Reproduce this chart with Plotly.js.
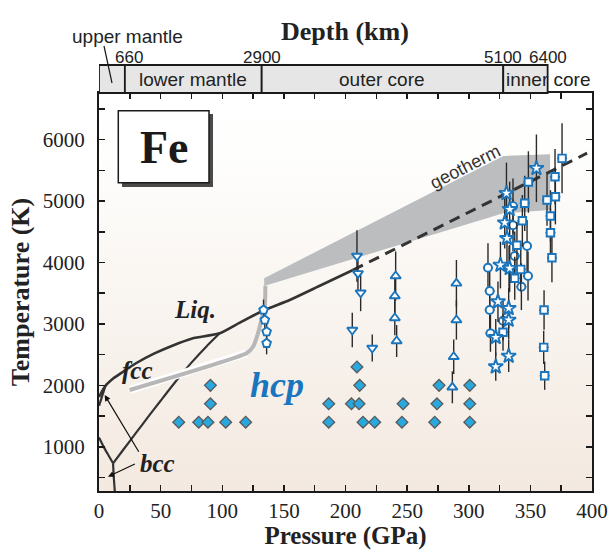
<!DOCTYPE html>
<html><head><meta charset="utf-8">
<script src="https://cdn.plot.ly/plotly-3.0.1.min.js"></script>
<style>html,body{margin:0;padding:0;background:#fff}#chart{width:614px;height:550px}</style>
</head><body><div id="chart"></div>
<script>
// ---------------- data ----------------
const depthKm = ['660', '2900', '5100', '6400'];
const depthP = [21, 132, 328, 364];
const depthRegions = ['lower mantle', 'outer core', 'inner core'];

// phase boundaries (P in GPa, T in K)
const meltP = [0, 5.2, 12, 19.5, 30, 45, 60, 75, 97.9, 115, 133.1, 154.7, 180, 206.1];
const meltT = [1811, 1991, 2120, 2222, 2360, 2520, 2650, 2760, 2847, 3030, 3215, 3389, 3630, 3878];
const meltExtP = [206.1, 396];
const meltExtT = [3878, 5780];
const deltaP = [0, 5.2];
const deltaT = [1667, 1991];
const bccFccP = [0, 4, 8, 11.4];
const bccFccT = [1150, 990, 850, 731];
const bccHcpP = [11.4, 12, 12.8];
const bccHcpT = [731, 500, 280];
const fccHcpP = [11.4, 20, 30, 40, 50, 62.8, 75, 87, 97.9];
const fccHcpT = [731, 960, 1225, 1490, 1750, 2080, 2370, 2630, 2847];
const grayP = [24.9, 119.6, 125, 129, 131.8, 134.5, 135];
const grayT = [1924, 2522, 2629, 2847, 3064, 3280, 3620];
const geoP = [134, 328, 366, 366, 328, 134];
const geoT = [3745, 5734, 5762, 4855, 4801, 3619];

// experimental points
const diaP = [64.7, 80.9, 88.4, 102.8, 119.0, 90.4, 90.4, 186.4, 186.4, 204.8, 211.0, 209.3, 211.5, 214.2, 223.7, 246.7, 245.8, 275.9, 274.2, 272.4, 300.8, 300.8, 300.8];
const diaT = [1400, 1400, 1400, 1400, 1400, 1700, 2000, 1700, 1400, 1700, 1700, 2300, 2000, 1400, 1400, 1700, 1400, 2000, 1700, 1400, 2000, 1700, 1400];

const pentP = [133.5, 134.5, 136, 136];
const pentT = [3227, 3064, 2873, 2685];
const pentErr = [170, 150, 150, 180];

const dtriP = [209.3, 210.1, 212.3, 205.5, 221.7];
const dtriT = [4106, 3824, 3508, 2901, 2608];
const dtriErr = [420, 300, 300, 280, 220];

const utriP = [240.7, 240, 240, 241.5, 290, 290, 287.8, 286.7];
const utriT = [3780, 3455, 3097, 2722, 3661, 3064, 2466, 1968];
const utriErr = [400, 300, 280, 260, 380, 320, 280, 260];

const starP = [330.6, 354.9, 333.2, 329.2, 331.0, 325.7, 333.2, 323.7, 332.4, 332.4, 321.9, 332.4, 321.9];
const starT = [5127, 5534, 4866, 4648, 4394, 3959, 3906, 3362, 3254, 3064, 2782, 2478, 2304];
const starErr = [500, 550, 450, 420, 400, 380, 380, 330, 330, 320, 300, 260, 230];

const circP = [335.9, 335.9, 337.3, 315.6, 332.7, 347.3, 348.1, 317.0, 342.7, 317.0, 327.8, 317.6];
const circT = [4918, 4606, 4106, 3915, 3894, 4269, 3780, 3536, 3606, 3227, 3052, 2847];
const circErr = [450, 420, 400, 400, 380, 420, 400, 350, 380, 330, 320, 300];

const sqP = [375.7, 370.0, 348.4, 370.3, 363.5, 345.4, 366.3, 343.5, 366.3, 339.1, 367.5, 342.2, 337.3, 327.8, 361.1, 360.8, 361.6];
const sqT = [5696, 5397, 5311, 5071, 5017, 4964, 4757, 4680, 4485, 4280, 4078, 3889, 3743, 2865, 3227, 2619, 2157];
const sqErr = [570, 450, 500, 450, 420, 450, 420, 420, 400, 380, 400, 360, 350, 300, 320, 270, 230];

// ---------------- layout helpers ----------------
const L = 99, R = 592, TOP = 93, BOT = 491;
const px = x => (x - L) / (R - L);
const py = y => (BOT - y) / (BOT - TOP);

const blue = '#1b75bc';
const dark = '#333333';
const serif = 'Liberation Serif, Times New Roman, serif';
const sans = 'Liberation Sans, Arial, sans-serif';

function line(x, y, color, width, dash) {
  return {x, y, type: 'scatter', mode: 'lines', hoverinfo: 'skip',
    line: {color, width, dash: dash || 'solid', shape: 'spline', smoothing: 0.5}};
}
function pts(x, y, err, symbol, size, errx) {
  return {x, y, type: 'scatter', mode: 'markers', hoverinfo: 'skip',
    marker: {symbol, size, color: '#ffffff', line: {color: blue, width: 1.9}},
    error_y: {type: 'data', array: err, visible: true, color: '#2a2a2a', thickness: 1.4, width: 0},
    error_x: {type: 'constant', value: errx, visible: errx > 0, color: '#2a2a2a', thickness: 1.3, width: 0}};
}

const traces = [
  {x: geoP, y: geoT, type: 'scatter', mode: 'lines', fill: 'toself', fillcolor: '#bcbdbf',
    line: {width: 0, color: '#bcbdbf'}, hoverinfo: 'skip'},
  line(meltP, meltT, dark, 2.6),
  line(deltaP, deltaT, dark, 2.2),
  line(bccFccP, bccFccT, dark, 2.2),
  line(bccHcpP, bccHcpT, dark, 2.2),
  line(fccHcpP, fccHcpT, dark, 2.2),
  {x: grayP.slice(0, 2), y: grayT.slice(0, 2), type: 'scatter', mode: 'lines', hoverinfo: 'skip',
    line: {color: '#ffffff', width: 8}},
  line(grayP, grayT, '#b7b7b7', 4),
  line(meltExtP, meltExtT, dark, 3, '11px,7px'),
  {x: diaP, y: diaT, type: 'scatter', mode: 'markers', hoverinfo: 'skip',
    marker: {symbol: 'diamond', size: 9, color: '#29a8df', line: {color: '#5a5a5a', width: 1.3}}},
  pts(pentP, pentT, pentErr, 'pentagon', 9, 0),
  pts(dtriP, dtriT, dtriErr, 'triangle-down', 9, 0),
  pts(utriP, utriT, utriErr, 'triangle-up', 9, 0),
  pts(circP, circT, circErr, 'circle', 8, 4),
  pts(sqP, sqT, sqErr, 'square', 7.5, 4),
  pts(starP, starT, starErr, 'star', 11, 3)
];

const bgSvg = "<svg xmlns='http://www.w3.org/2000/svg' width='10' height='100' preserveAspectRatio='none'>" +
  "<defs><linearGradient id='g' x1='0' y1='0' x2='0' y2='1'><stop offset='0' stop-color='#ffffff'/>" +
  "<stop offset='0.15' stop-color='#fefefd'/><stop offset='1' stop-color='#f3e9e0'/></linearGradient></defs>" +
  "<rect width='10' height='100' fill='url(#g)'/></svg>";

const barTop = py(65);
const shapes = [];
const bounds = [0].concat(depthP);
for (let i = 0; i < bounds.length - 1; i++) {
  shapes.push({type: 'rect', xref: 'x', yref: 'paper', x0: bounds[i], x1: bounds[i + 1], y0: 1, y1: barTop,
    fillcolor: '#e6e6e6', line: {color: '#1a1a1a', width: 1.8}});
}
shapes.push({type: 'line', xref: 'paper', yref: 'paper', x0: px(104), y0: py(46), x1: px(112), y1: py(83),
  line: {color: '#1a1a1a', width: 1.2}});
// Fe box
shapes.push({type: 'rect', xref: 'paper', yref: 'paper', x0: px(122), x1: px(213), y0: py(114), y1: py(187),
  fillcolor: '#4a4a4a', line: {width: 0}});
shapes.push({type: 'rect', xref: 'paper', yref: 'paper', x0: px(118.3), x1: px(209), y0: py(110.7), y1: py(182.7),
  fillcolor: '#ffffff', line: {color: '#1a1a1a', width: 1.5}});

const phaseFont = (size, color) => ({family: serif, size, color: color || '#222', style: 'italic', weight: 'bold'});
function txt(o) { return Object.assign({showarrow: false, xanchor: 'center', yanchor: 'middle'}, o); }
const annotations = [
  txt({xref: 'paper', yref: 'paper', x: px(345), y: py(31), text: 'Depth (km)',
    font: {family: serif, size: 26, color: '#222', weight: 'bold'}}),
  txt({xref: 'paper', yref: 'paper', x: px(127), y: py(36), text: 'upper mantle',
    font: {family: sans, size: 19, color: '#222'}}),
  txt({xref: 'paper', yref: 'paper', x: px(164), y: py(147), text: 'Fe',
    font: {family: serif, size: 46, color: '#1a1a1a', weight: 'bold'}}),
  txt({x: 78, y: 3243, text: 'Liq.', font: phaseFont(25)}),
  txt({x: 31, y: 2242, text: 'fcc', font: phaseFont(25)}),
  txt({x: 47.6, y: 728, text: 'bcc', font: phaseFont(25)}),
  txt({x: 144.6, y: 2006, text: 'hcp', font: phaseFont(36, '#1a75bf')}),
  txt({x: 296.7, y: 5563, text: 'geotherm', textangle: -27, font: {family: sans, size: 18, color: '#333'}}),
  {x: 4.6, y: 1843, ax: 33, ay: 894, axref: 'x', ayref: 'y', text: '', showarrow: true,
    arrowhead: 2, arrowsize: 1, arrowwidth: 1.2, arrowcolor: '#111', standoff: 0},
  {x: 7.3, y: 513, ax: 30.3, ay: 731, axref: 'x', ayref: 'y', text: '', showarrow: true,
    arrowhead: 2, arrowsize: 1, arrowwidth: 1.2, arrowcolor: '#111', standoff: 0}
];
depthKm.forEach((t, i) => annotations.push(txt({xref: 'x', yref: 'paper', x: depthP[i], y: py(57), text: t,
  xshift: i === 0 ? 4 : 0, font: {family: sans, size: 17, color: '#222'}})));
depthRegions.forEach((t, i) => {
  const inner = i === depthRegions.length - 1;
  annotations.push(txt({xref: 'x', yref: 'paper', x: inner ? depthP[i] : (depthP[i] + depthP[i + 1]) / 2,
    y: py(80), text: t, xanchor: inner ? 'left' : 'center', xshift: inner ? 1 : 0,
    font: {family: sans, size: 19, color: '#222'}}));
});

const axisCommon = {showline: true, linewidth: 2, linecolor: '#1a1a1a', mirror: 'ticks', ticks: 'inside',
  ticklen: 6, tickwidth: 1.5, tickcolor: '#1a1a1a', showgrid: false, zeroline: false,
  tickfont: {family: serif, size: 21, color: '#222'}};

const layout = {
  width: 614, height: 550,
  margin: {l: L, r: 614 - R, t: TOP, b: 550 - BOT},
  paper_bgcolor: '#ffffff', plot_bgcolor: '#ffffff',
  showlegend: false,
  xaxis: Object.assign({}, axisCommon, {range: [0, 400], dtick: 50, tick0: 0,
    minor: {dtick: 25, ticks: 'inside', ticklen: 6, tickwidth: 1.5, tickcolor: '#1a1a1a'},
    ticklabelstandoff: 0,
    title: {text: 'Pressure (GPa)', standoff: 8, font: {family: serif, size: 25, color: '#222', weight: 'bold'}}}),
  yaxis: Object.assign({}, axisCommon, {range: [280, 6760], dtick: 1000, tick0: 0,
    minor: {dtick: 500, ticks: 'inside', ticklen: 6, tickwidth: 1.5, tickcolor: '#1a1a1a'},
    ticklabelstandoff: 8,
    title: {text: 'Temperature (K)', standoff: 6, font: {family: serif, size: 26, color: '#222', weight: 'bold'}}}),
  images: [{source: 'data:image/svg+xml;charset=utf-8,' + encodeURIComponent(bgSvg), xref: 'paper', yref: 'paper',
    x: 0, y: 1, sizex: 1, sizey: 1, sizing: 'stretch', layer: 'below', xanchor: 'left', yanchor: 'top'}],
  shapes, annotations
};

Plotly.newPlot('chart', traces, layout, {displayModeBar: false, staticPlot: true});
</script>
</body></html>
